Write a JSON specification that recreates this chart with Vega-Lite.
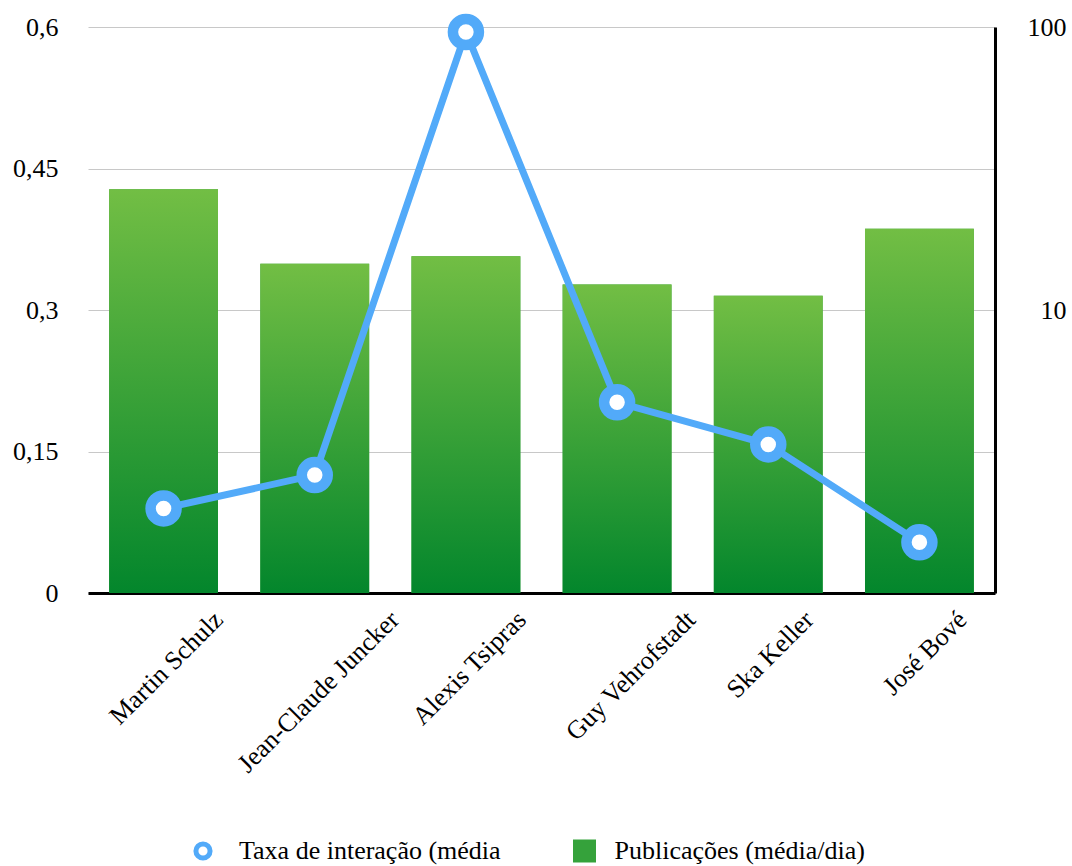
{
  "$schema": "https://vega.github.io/schema/vega-lite/v6.json",
  "width": 907,
  "height": 566,
  "autosize": "none",
  "padding": {"left": 88, "top": 27, "right": 77, "bottom": 273},
  "background": "white",
  "config": {
    "font": "Liberation Serif",
    "view": {"stroke": null},
    "axis": {"labelFont": "Liberation Serif", "labelFontSize": 26, "labelColor": "#000000", "titleFontSize": 0, "labelLimit": 0},
    "legend": {"labelFont": "Liberation Serif", "labelFontSize": 26, "labelColor": "#000000", "padding": 0, "orient": "none", "labelLimit": 0}
  },
  "data": {
    "values": [
      {"nome": "Martin Schulz", "pub": 0.428, "taxa": 1.99},
      {"nome": "Jean-Claude Juncker", "pub": 0.349, "taxa": 2.61},
      {"nome": "Alexis Tsipras", "pub": 0.357, "taxa": 96},
      {"nome": "Guy Vehrofstadt", "pub": 0.327, "taxa": 4.72},
      {"nome": "Ska Keller", "pub": 0.315, "taxa": 3.35},
      {"nome": "José Bové", "pub": 0.386, "taxa": 1.51}
    ]
  },
  "encoding": {
    "x": {
      "field": "nome",
      "type": "nominal",
      "sort": null,
      "title": null,
      "scale": {"paddingInner": 0.28, "paddingOuter": 0.14},
      "axis": {
        "labelAngle": -45,
        "labelOffset": {
          "condition": [
            {"test": "datum.value === 'Jean-Claude Juncker'", "value": 71},
            {"test": "datum.value === 'Guy Vehrofstadt'", "value": 65},
            {"test": "datum.value === 'Alexis Tsipras'", "value": 47},
            {"test": "datum.value === 'Ska Keller'", "value": 32},
            {"test": "datum.value === 'José Bové'", "value": 34}
          ],
          "value": 46
        },
        "labelPadding": 13,
        "labelLimit": 0,
        "ticks": false,
        "domainColor": "#000000",
        "domainWidth": 3,
        "grid": false
      }
    }
  },
  "layer": [
    {
      "encoding": {
        "y": {
          "field": "pub",
          "type": "quantitative",
          "title": null,
          "scale": {"domain": [0, 0.6], "nice": false},
          "axis": {
            "values": [0, 0.15, 0.3, 0.45, 0.6],
            "labelExpr": "replace(toString(datum.value), '.', ',')",
            "domain": false,
            "ticks": false,
            "labelPadding": 30,
            "grid": true,
            "gridColor": "#c8c8c8",
            "gridWidth": 1
          }
        }
      },
      "layer": [
        {
          "mark": {"type": "bar"},
          "encoding": {
            "fill": {
              "datum": "Publicações (média/dia)",
              "scale": {"range": ["#35a23b"]},
              "legend": {
                "title": null,
                "legendX": 483.5,
                "legendY": 811,
                "symbolType": "square",
                "symbolSize": 529,
                "symbolStrokeWidth": 0,
                "labelOffset": 17,
                "labelLimit": 0
              }
            }
          }
        },
        {
          "mark": {
            "type": "bar",
            "fill": {
              "gradient": "linear",
              "x1": 0, "y1": 1, "x2": 0, "y2": 0,
              "stops": [
                {"offset": 0, "color": "#03862c"},
                {"offset": 1, "color": "#72be44"}
              ]
            }
          },
          "encoding": {}
        }
      ]
    },
    {
      "encoding": {
        "y": {
          "field": "taxa",
          "type": "quantitative",
          "title": null,
          "scale": {"type": "log", "domain": [1, 100], "nice": false},
          "axis": {
            "orient": "right",
            "values": [10, 100],
            "format": "d",
            "domainColor": "#000000",
            "domainWidth": 3,
            "ticks": false,
            "labelAlign": "right",
            "labelPadding": 71,
            "grid": false
          }
        }
      },
      "layer": [
        {
          "mark": {"type": "line", "strokeWidth": 7, "color": "#52aaf9"},
          "encoding": {}
        },
        {
          "mark": {
            "type": "point",
            "shape": "circle",
            "filled": true,
            "fill": "#ffffff",
            "strokeWidth": 10.5,
            "size": 676,
            "opacity": 1
          },
          "encoding": {
            "stroke": {
              "datum": "Taxa de interação (média",
              "scale": {"range": ["#52aaf9"]},
              "legend": {
                "title": null,
                "legendX": 102,
                "legendY": 811,
                "symbolType": "circle",
                "symbolSize": 200,
                "symbolFillColor": "#ffffff",
                "symbolStrokeWidth": 5,
                "labelOffset": 23,
                "labelLimit": 0
              }
            }
          }
        }
      ]
    }
  ],
  "resolve": {"scale": {"y": "independent"}}
}
